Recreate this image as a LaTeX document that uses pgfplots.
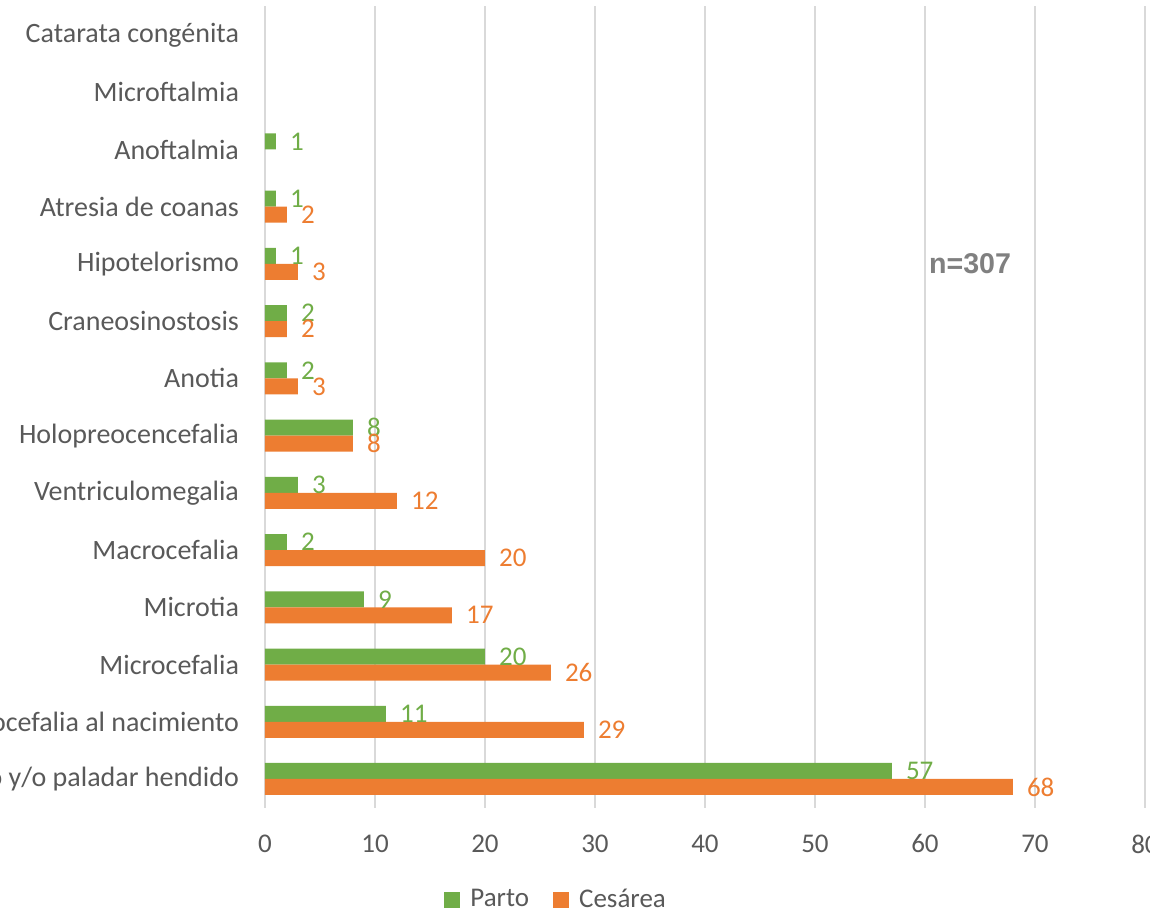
\documentclass[border=0pt]{standalone}
\usepackage{pgfplots}
\pgfplotsset{compat=1.18}
\usepackage{fontspec}
\setmainfont{Carlito}
\newfontfamily\arialfont{Liberation Sans}
\definecolor{parto}{HTML}{70AD47}
\definecolor{cesarea}{HTML}{ED7D31}
\definecolor{txtgray}{HTML}{595959}
\definecolor{gridgray}{HTML}{D9D9D9}
\begin{document}
\begin{tikzpicture}
\begin{axis}[
  scale only axis,
  width=440pt, height=400.6pt,
  xbar, bar width=8pt,
  xmin=0, xmax=80, xtick={0,10,...,80},
  ymin=-0.5, ymax=13.5, ytick={0,...,13},
  yticklabels={Labio y/o paladar hendido, Microcefalia al nacimiento, Microcefalia, Microtia,
    Macrocefalia, Ventriculomegalia, Holopreocencefalia, Anotia, Craneosinostosis,
    Hipotelorismo, Atresia de coanas, Anoftalmia, Microftalmia, Catarata congénita},
  axis line style={draw=none},
  major tick length=0pt,
  xmajorgrids, grid style={draw=gridgray, line width=1pt},
  ticklabel style={font=\fontsize{13.5}{16}\selectfont, text=txtgray},
  /pgf/number format/assume math mode=true,
  yticklabel style={font=\fontsize{14}{16}\selectfont, xshift=-9.5pt},
  xticklabel style={yshift=-10pt},
  nodes near coords,
  nodes near coords style={font=\fontsize{13.5}{16}\selectfont, anchor=west, xshift=3.5pt},
  legend style={at={(0.332,-0.115)}, anchor=center, draw=none, fill=none,
    legend columns=2, font=\fontsize{13.5}{16}\selectfont, text=txtgray,
    /tikz/every even column/.append style={column sep=10pt}},
  legend image code/.code={\fill[#1] (0pt,-4pt) rectangle (8pt,4pt); \path (11pt,0pt);},
]
\addplot[fill=parto, draw=none, bar shift=4pt, nodes near coords style={text=parto}] coordinates {
  (57,0) (11,1) (20,2) (9,3) (2,4) (3,5) (8,6) (2,7) (2,8) (1,9) (1,10) (1,11)
};
\addplot[fill=cesarea, draw=none, bar shift=-4pt, nodes near coords style={text=cesarea}] coordinates {
  (68,0) (29,1) (26,2) (17,3) (20,4) (12,5) (8,6) (3,7) (2,8) (3,9) (2,10)
};
\legend{Parto, Cesárea}
\node[font=\arialfont\bfseries\fontsize{14.3}{17}\selectfont, text={rgb,255:red,128;green,128;blue,128}]
  at (axis cs:64.1,9) {n=307};
\end{axis}
\pgfresetboundingbox
\useasboundingbox (-132.5pt,-52.2pt) rectangle (442.5pt,403.8pt);
\end{tikzpicture}
\end{document}
